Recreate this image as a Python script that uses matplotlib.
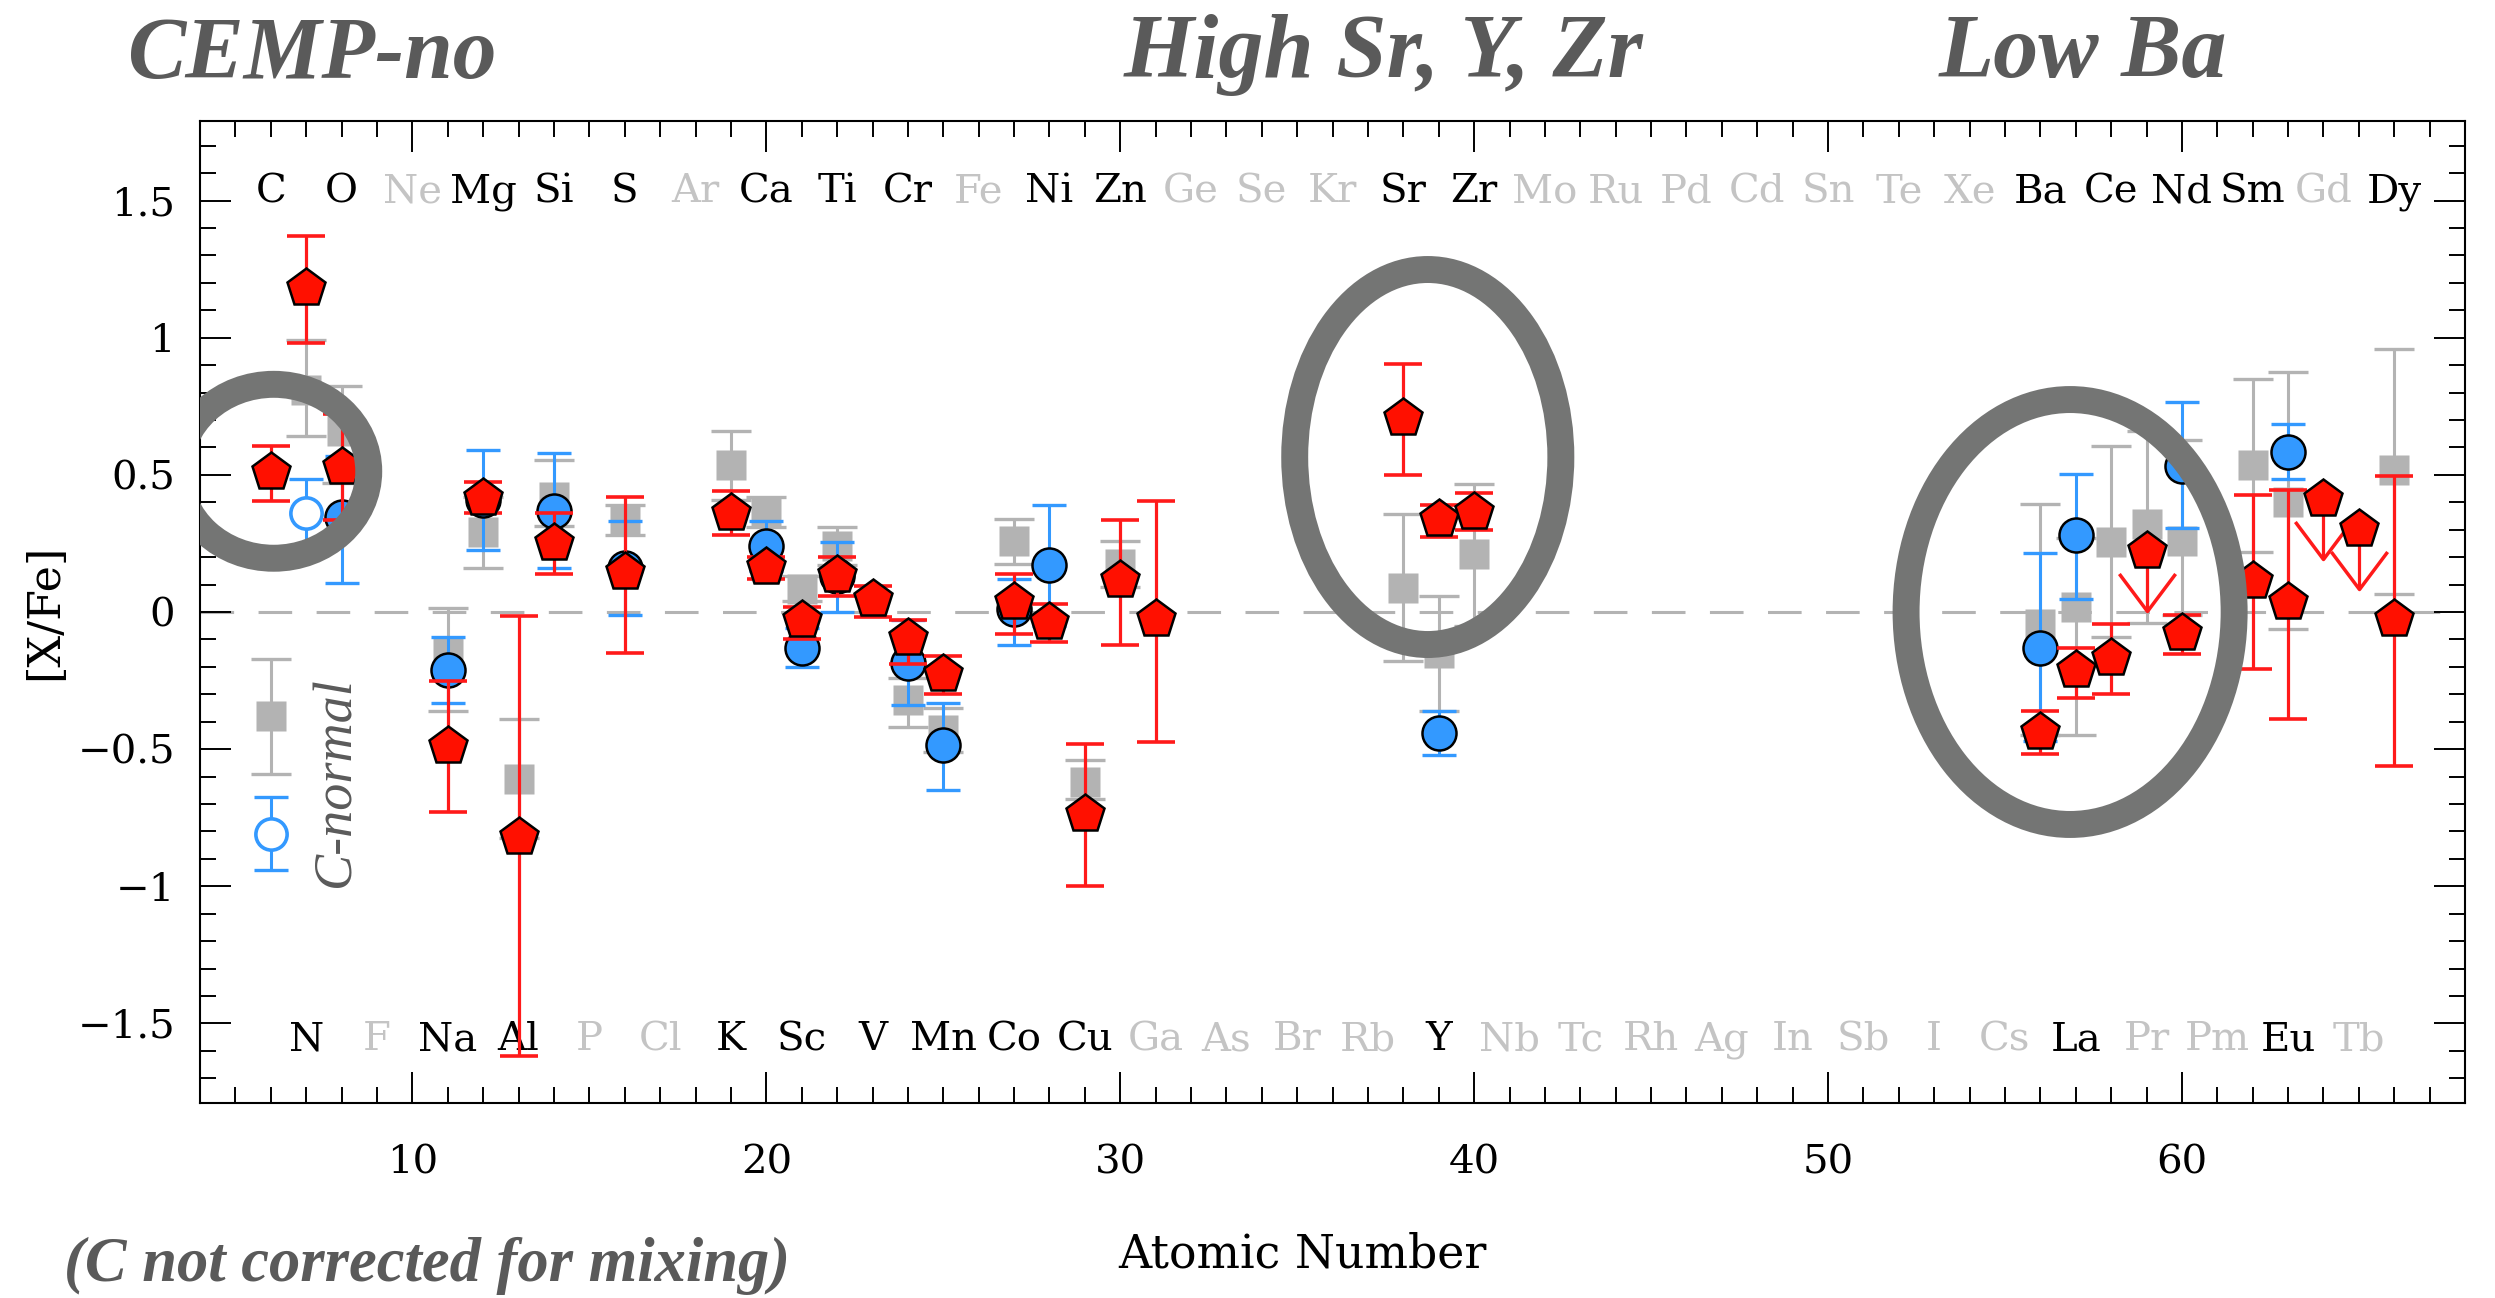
import matplotlib
matplotlib.use('Agg')
import matplotlib.pyplot as plt
import numpy as np
from matplotlib.patches import Ellipse
from matplotlib.path import Path
from matplotlib.ticker import MultipleLocator, FuncFormatter


# abundance pattern: atomic number, [X/Fe], lower and upper end of the error bar

# CEMP-no star (red pentagons)
red_z = [6, 7, 8, 11, 12, 13, 14, 16, 19, 20, 21, 22, 23, 24, 25, 27, 28, 29, 30, 31,
         38, 39, 40, 56, 57, 58, 60, 62, 63, 66]
red_xfe = [0.51, 1.18, 0.53, -0.49, 0.415, -0.82, 0.25, 0.145, 0.36, 0.165, -0.03, 0.135,
           0.047, -0.095, -0.225, 0.036, -0.037, -0.735, 0.117, -0.025,
           0.708, 0.34, 0.366, -0.437, -0.212, -0.169, -0.075, 0.113, 0.036, -0.027]
red_lo = [0.405, 0.98, 0.336, -0.73, 0.36, -1.62, 0.14, -0.15, 0.28, 0.12, -0.10, 0.06,
          -0.02, -0.19, -0.30, -0.08, -0.11, -1.0, -0.12, -0.475,
          0.50, 0.275, 0.30, -0.518, -0.313, -0.30, -0.153, -0.208, -0.39, -0.56]
red_hi = [0.606, 1.37, 0.72, -0.25, 0.475, -0.015, 0.36, 0.42, 0.44, 0.20, 0.02, 0.20,
          0.096, -0.03, -0.16, 0.14, 0.03, -0.48, 0.335, 0.405,
          0.905, 0.39, 0.435, -0.361, -0.13, -0.044, -0.011, 0.427, 0.443, 0.497]

# upper limits for the same star
red_ul_z = [59, 64, 65]
red_ul_xfe = [0.223, 0.413, 0.304]

# comparison star (blue circles)
blue_z = [8, 11, 12, 14, 16, 20, 21, 22, 24, 25, 27, 28, 39, 56, 57, 60, 63]
blue_xfe = [0.348, -0.21, 0.41, 0.37, 0.16, 0.24, -0.13, 0.13, -0.185, -0.485, 0.01, 0.17,
            -0.44, -0.132, 0.28, 0.533, 0.585]
blue_lo = [0.105, -0.33, 0.225, 0.16, -0.01, 0.15, -0.20, 0.0, -0.34, -0.65, -0.12, -0.05,
           -0.52, -0.47, 0.047, 0.308, 0.484]
blue_hi = [0.567, -0.09, 0.59, 0.58, 0.33, 0.33, -0.06, 0.255, -0.03, -0.33, 0.12, 0.39,
           -0.36, 0.215, 0.503, 0.764, 0.687]

# comparison star, C and N (open circles)
blue_open_z = [6, 7]
blue_open_xfe = [-0.81, 0.36]
blue_open_lo = [-0.94, 0.24]
blue_open_hi = [-0.675, 0.485]

# C-normal reference (grey squares)
grey_z = [6, 7, 8, 11, 12, 13, 14, 16, 19, 20, 21, 22, 24, 25, 27, 29, 30,
          38, 39, 40, 56, 57, 58, 59, 60, 62, 63, 66]
grey_xfe = [-0.38, 0.81, 0.66, -0.15, 0.29, -0.61, 0.42, 0.33, 0.535, 0.37, 0.085, 0.24,
            -0.32, -0.43, 0.26, -0.62, 0.175,
            0.087, -0.15, 0.21, -0.045, 0.02, 0.256, 0.32, 0.26, 0.536, 0.402, 0.516]
grey_lo = [-0.59, 0.64, 0.47, -0.36, 0.16, -0.825, 0.315, 0.28, 0.41, 0.31, 0.04, 0.17,
           -0.42, -0.51, 0.175, -0.68, 0.09,
           -0.18, -0.36, -0.05, -0.45, -0.45, -0.09, -0.04, -0.01, 0.22, -0.062, 0.065]
grey_hi = [-0.17, 0.99, 0.825, 0.015, 0.42, -0.39, 0.555, 0.39, 0.66, 0.42, 0.13, 0.31,
           -0.24, -0.35, 0.34, -0.54, 0.26,
           0.357, 0.06, 0.467, 0.394, 0.27, 0.606, 0.66, 0.628, 0.85, 0.876, 0.96]

# element symbols along the top (even Z) and bottom (odd Z) of the panel
top_symbols = ['C', 'O', 'Ne', 'Mg', 'Si', 'S', 'Ar', 'Ca', 'Ti', 'Cr', 'Fe', 'Ni', 'Zn',
               'Ge', 'Se', 'Kr', 'Sr', 'Zr', 'Mo', 'Ru', 'Pd', 'Cd', 'Sn', 'Te', 'Xe',
               'Ba', 'Ce', 'Nd', 'Sm', 'Gd', 'Dy']
bottom_symbols = ['N', 'F', 'Na', 'Al', 'P', 'Cl', 'K', 'Sc', 'V', 'Mn', 'Co', 'Cu', 'Ga',
                  'As', 'Br', 'Rb', 'Y', 'Nb', 'Tc', 'Rh', 'Ag', 'In', 'Sb', 'I', 'Cs',
                  'La', 'Pr', 'Pm', 'Eu', 'Tb']
measured = ['C', 'O', 'Mg', 'Si', 'S', 'Ca', 'Ti', 'Cr', 'Ni', 'Zn', 'Sr', 'Zr', 'Ba', 'Ce',
            'Nd', 'Sm', 'Dy', 'N', 'Na', 'Al', 'K', 'Sc', 'V', 'Mn', 'Co', 'Cu', 'Y', 'La', 'Eu']


RED = '#ff1000'
RED_BAR = '#ff1a1a'
BLUE = '#3399ff'
GREY = '#b3b3b3'
LABEL_GREY = '#c4c4c4'
RING = '#747574'
NOTE = '#5a5a5a'
SERIF = 'DejaVu Serif'
TITLE_FONT = 'Liberation Serif'


def bars(v, lo, hi):
    v = np.asarray(v)
    return np.vstack([v - np.asarray(lo), np.asarray(hi) - v])


fig = plt.figure(figsize=(24.95, 12.98), dpi=100)
ax = fig.add_axes([0.0802, 0.1502, 0.9078, 0.7566])

ax.set_xlim(4, 68)
ax.set_ylim(-1.79, 1.79)

# zero line
ax.axhline(0, color=GREY, lw=2.2, linestyle=(0, (11, 8)), zorder=1)

# grey reference squares
ax.errorbar(grey_z, grey_xfe, yerr=bars(grey_xfe, grey_lo, grey_hi), fmt='none',
            ecolor=GREY, elinewidth=2.2, capsize=14.5, capthick=2.4, zorder=2)
ax.plot(grey_z, grey_xfe, 's', ms=21.5, color=GREY, mec='none', zorder=2.1)

# blue star
ax.errorbar(blue_z, blue_xfe, yerr=bars(blue_xfe, blue_lo, blue_hi), fmt='none',
            ecolor=BLUE, elinewidth=2.2, capsize=12, capthick=2.4, zorder=3)
ax.plot(blue_z, blue_xfe, 'o', ms=24.5, mfc=BLUE, mec='black', mew=1.8, zorder=3.1)
ax.errorbar(blue_open_z, blue_open_xfe,
            yerr=bars(blue_open_xfe, blue_open_lo, blue_open_hi), fmt='none',
            ecolor=BLUE, elinewidth=2.2, capsize=12, capthick=2.4, zorder=3)
ax.plot(blue_open_z, blue_open_xfe, 'o', ms=22.5, mfc='white', mec=BLUE, mew=2.6, zorder=3.1)

# red star, with upper limits as open arrows
ax.errorbar(red_z, red_xfe, yerr=bars(red_xfe, red_lo, red_hi), fmt='none',
            ecolor=RED_BAR, elinewidth=2.3, capsize=14, capthick=2.6, zorder=4)
arrow_len = 0.22
ul_tip = np.array(red_ul_xfe) - arrow_len
ax.vlines(red_ul_z, ul_tip, red_ul_xfe, color=RED_BAR, lw=2.3, zorder=4)
vee = Path([(-0.75, 1.0), (0.0, 0.0), (0.75, 1.0)],
           [Path.MOVETO, Path.LINETO, Path.LINETO])
ax.plot(red_ul_z, ul_tip, linestyle='none', marker=vee, ms=54, mfc='none',
        mec=RED_BAR, mew=2.5, zorder=4)
ax.plot(red_z + red_ul_z, red_xfe + red_ul_xfe, 'p', ms=29, mfc=RED, mec='black',
        mew=1.8, zorder=4.1)

# element names
for i, sym in enumerate(top_symbols):
    ax.text(6 + 2 * i, 1.493, sym, ha='center', va='baseline', fontsize=29, family=SERIF,
            color='black' if sym in measured else LABEL_GREY, zorder=1)
for i, sym in enumerate(bottom_symbols):
    ax.text(7 + 2 * i, -1.598, sym, ha='center', va='baseline', fontsize=29, family=SERIF,
            color='black' if sym in measured else LABEL_GREY, zorder=1)

ax.text(7.85, -0.62, 'C-normal', rotation=90, ha='center', va='center', fontsize=39,
        family=TITLE_FONT, style='italic', color=NOTE)

# rings around the highlighted groups
for cx, cy, w, h in [(6.08, 0.513, 5.37, 0.634),
                     (38.69, 0.565, 7.52, 1.367),
                     (56.84, 0.0, 9.27, 1.549)]:
    ax.add_patch(Ellipse((cx, cy), w, h, fill=False, ec=RING, lw=19.4, zorder=6))

# axes, ticks and labels
for s in ax.spines.values():
    s.set_linewidth(1.5)
ax.xaxis.set_major_locator(MultipleLocator(10))
ax.xaxis.set_minor_locator(MultipleLocator(1))
ax.yaxis.set_major_locator(MultipleLocator(0.5))
ax.yaxis.set_minor_locator(MultipleLocator(0.1))
ax.yaxis.set_major_formatter(FuncFormatter(lambda v, p: f'{v:g}'.replace('-', '\u2212')))
ax.tick_params(which='both', direction='in', top=True, right=True, width=1.4)
ax.tick_params(which='major', length=22)
ax.tick_params(which='minor', length=11.5)
ax.tick_params(axis='x', which='major', pad=30, labelsize=29)
ax.tick_params(axis='y', which='major', pad=18, labelsize=29)
for lab in ax.get_xticklabels() + ax.get_yticklabels():
    lab.set_family(SERIF)

ax.set_xlabel('Atomic Number', fontsize=33, family=SERIF, va='baseline')
ax.xaxis.set_label_coords(0.4865, -0.167)
ax.set_ylabel('[X/Fe]', fontsize=32, family=SERIF)
ax.yaxis.set_label_coords(-0.059, 0.5)

# headings above the panel
fig.text(0.0509, 0.9399, 'CEMP-no', fontsize=63, family=TITLE_FONT, weight='bold',
         style='italic', color=NOTE, va='baseline')
fig.text(0.4505, 0.9409, 'High Sr, Y, Zr', fontsize=65, family=TITLE_FONT, weight='bold',
         style='italic', color=NOTE, va='baseline')
fig.text(0.7772, 0.9409, 'Low Ba', fontsize=65, family=TITLE_FONT, weight='bold',
         style='italic', color=NOTE, va='baseline')
fig.text(0.0257, 0.0131, '(C not corrected for mixing)', fontsize=45, family=TITLE_FONT,
         weight='bold', style='italic', color=NOTE, va='baseline')

fig.savefig('out.png', dpi=100)
